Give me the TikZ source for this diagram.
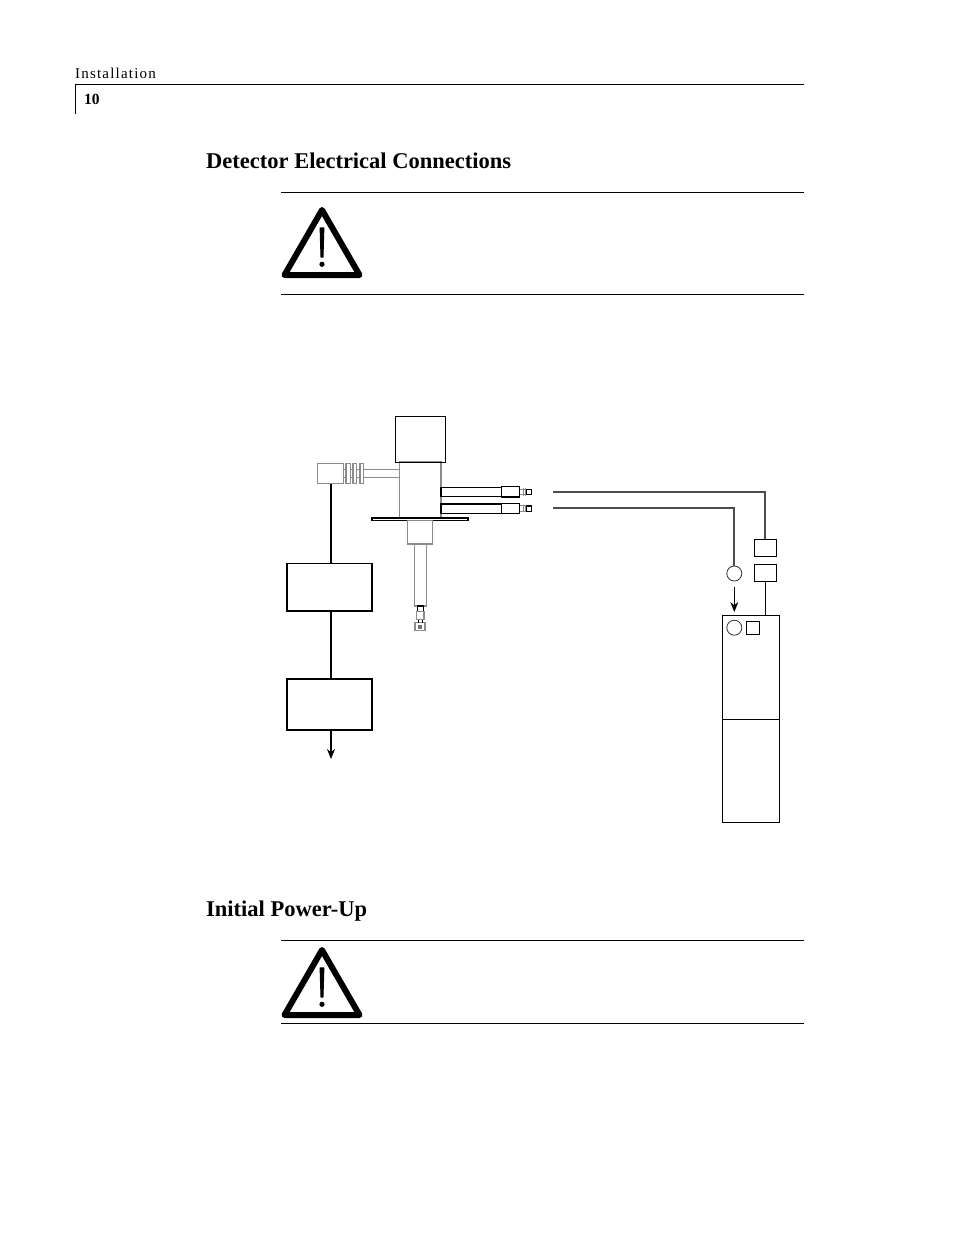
\documentclass[tikz,border=0pt]{standalone}
\usepackage{fontspec}
\setmainfont{Liberation Serif}
\usetikzlibrary{arrows.meta}
\tikzset{
    part/.style={draw,rectangle,inner sep=0pt,line width=1.2pt},
    greypart/.style={part,draw=black!45},
    circ/.style={draw=black!80,circle,inner sep=0pt,minimum size=15pt,line width=0.8pt},
    rulestyle/.style={line width=0.9pt},
    wire/.style={draw=black!70,line width=2pt},
    feed/.style={line width=1.8pt},
    title/.style={font=\bfseries\fontsize{22.5}{22.5}\selectfont,anchor=base west,inner sep=0pt}
}
\begin{document}
\begin{tikzpicture}[x=1pt,y=-1pt]
        \useasboundingbox[fill=white] (0,0) rectangle (954,1235);

        % page head
        \coordinate (headL) at (75.5,84.5);
        \coordinate (headR) at (804,84.5);
        \coordinate (headB) at (75.5,114);
        \draw[rulestyle] (headB) -- (headL) -- (headR);
        \node[anchor=base west,inner sep=0pt,font=\fontsize{15}{15}\selectfont] (chapter) at (75,78) {\addfontfeature{LetterSpace=8}Installation};
        \node[anchor=base west,inner sep=0pt,font=\bfseries\fontsize{15.5}{15.5}\selectfont] (pagenum) at (84,104) {10};

        \node[title] (heading1) at (206,168) {Detector Electrical Connections};
        \node[title] (heading2) at (206,916) {Initial Power-Up};

        % warnings
        \foreach \r/\s/\dy in {192.5/294.5/0,940.5/1023.5/740}{
            \draw[rulestyle] (281,\r) -- (804,\r);
            \draw[rulestyle] (281,\s) -- (804,\s);
            \begin{scope}[yshift=-\dy pt]
                \draw[line width=6pt,line join=round] (322,210) -- (359.5,275) -- (284.5,275) -- cycle;
                \fill[draw,line width=1.2pt,line join=round] (320.2,228) -- (323.8,228) -- (322.9,257) -- (321.1,257) -- cycle;
                \fill (322,264.3) circle (2.6);
            \end{scope}
        }

        % detector
        \node[greypart,minimum width=41.5pt,minimum height=56pt] (body) at (420.2,490) {};
        \node[part,minimum width=50.4pt,minimum height=46pt] (head) at (420.5,439.3) {};
        \node[part,minimum width=96pt,minimum height=2.5pt] (flange) at (420,519.3) {};
        \node[greypart,minimum width=25pt,minimum height=23.5pt] (neck) at (420.2,532.3) {};
        \node[greypart,minimum width=12pt,minimum height=62pt] (tube) at (420.3,575) {};
        \node[part,minimum width=6.4pt,minimum height=5.5pt] (tip) at (420.5,608.8) {};
        \node[greypart,minimum width=7.3pt,minimum height=8pt] (hex) at (420.4,615.5) {};
        \node[greypart,minimum width=10pt,minimum height=8pt] (sensor) at (420,626.7) {};
        \draw[line width=0.7pt] (418.5,619.5) -- (418.5,622.7);
        \draw[line width=0.7pt] (422.5,619.5) -- (422.5,622.7);
        \fill[black!55] (418,624.5) rectangle (422,629);

        % left plug
        \node[greypart,minimum width=26pt,minimum height=20pt] (plug) at (330.3,473.3) {};
        \node[greypart,minimum width=4.7pt,minimum height=20pt] (finA) at (348.3,473.3) {};
        \node[greypart,minimum width=3.7pt,minimum height=20pt] (finB) at (354.9,473.3) {};
        \node[greypart,minimum width=3.7pt,minimum height=20pt] (finC) at (361.8,473.3) {};
        \node[greypart,minimum width=35.8pt,minimum height=8.4pt] (lead) at (381.6,473.5) {};
        \foreach \a/\b in {plug/finA,finA/finB,finB/finC}{
            \draw[draw=black!45,line width=1pt] ([yshift=-4.2pt]\a.east) -- ([yshift=-4.2pt]\b.west);
            \draw[draw=black!45,line width=1pt] ([yshift=4.2pt]\a.east) -- ([yshift=4.2pt]\b.west);
        }

        % right cables
        \foreach \n/\y in {A/491.8,B/508.6}{
            \node[part,minimum width=60.5pt,minimum height=9.2pt] (cable\n) at (471.2,\y) {};
            \node[part,fill=white,minimum width=18.4pt,minimum height=10.2pt] (ferrule\n) at (510.5,\y) {};
            \node[part,minimum width=5.7pt,minimum height=5.4pt] (pin\n) at (528.8,\y) {};
            \draw[draw=black!45,line width=1pt] ([yshift=2.7pt]ferrule\n.east) -- ([yshift=2.7pt]pin\n.west);
            \draw[draw=black!45,line width=1pt] ([yshift=-2.7pt]ferrule\n.east) -- ([yshift=-2.7pt]pin\n.west);
            \draw[draw=black!45,line width=1pt] (523,\y-3.8) -- (523,\y+3.8);
            \draw[draw=black!45,line width=1pt] (525,\y-3.8) -- (525,\y+3.8);
        }

        % left chain
        \node[part,line width=1.4pt,minimum width=85pt,minimum height=47.5pt] (boxA) at (329.5,587.3) {};
        \node[part,line width=1.4pt,minimum width=85pt,minimum height=51pt] (boxB) at (329.5,704.5) {};
        \coordinate (drop) at (331,0);
        \coordinate (outlet) at (331,759);
        \draw[feed] (drop |- plug.south) -- (drop |- boxA.north);
        \draw[feed] (drop |- boxA.south) -- (drop |- boxB.north);
        \draw[line width=1.2pt,-{Stealth[length=10pt,width=8pt]}] (drop |- boxB.south) -- (outlet);

        % right side
        \node[part,minimum width=22pt,minimum height=17.4pt] (fuseA) at (765.3,548) {};
        \node[part,minimum width=22pt,minimum height=17pt] (fuseB) at (765.3,572.8) {};
        \node[circ] (lamp) at (734.3,573.5) {};
        \node[draw,rectangle,inner sep=0pt,line width=0.9pt,minimum width=57.4pt,minimum height=207pt] (panel) at (751,718.5) {};
        \node[circ] (panelLamp) at (734.3,627.7) {};
        \node[part,line width=0.8pt,minimum width=13.4pt,minimum height=13.4pt] (panelKey) at (753,628) {};
        \coordinate (wireA) at (553,491.7);
        \coordinate (wireB) at (553,508.3);
        \coordinate (arrowTop) at (734.3,587);
        \coordinate (arrowEnd) at (734.3,612);
        \draw[wire] (wireA) -| (fuseA.north);
        \draw[wire] (wireB) -| (lamp.north);
        \draw[line width=0.9pt] (fuseB.south) -- (fuseB.south |- panel.north);
        \draw[line width=0.9pt,-{Stealth[length=10pt,width=8pt]}] (arrowTop) -- (arrowEnd);
        \draw[line width=0.9pt] (panel.west |- 0,719) -- (panel.east |- 0,719);
    \end{tikzpicture}
\end{document}
